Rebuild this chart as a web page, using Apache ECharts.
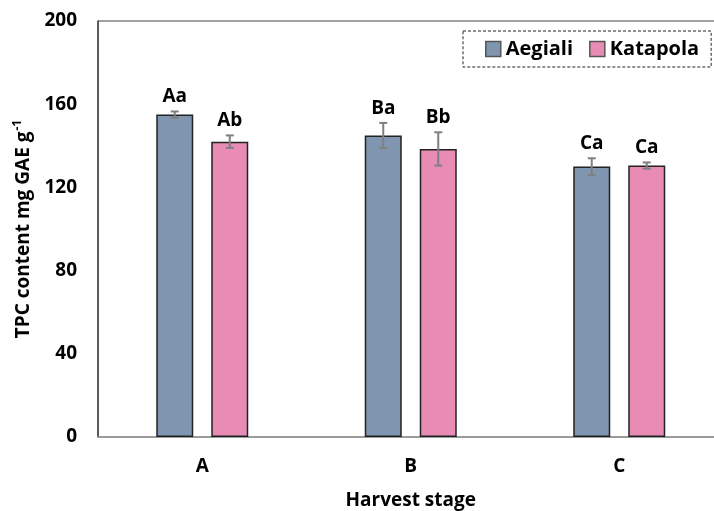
<!DOCTYPE html>
<html><head><meta charset="utf-8">
<script src="https://cdn.jsdelivr.net/npm/echarts@6/dist/echarts.min.js"></script>
<style>html,body{margin:0;padding:0;background:#fff}#c{width:714px;height:511px}</style>
</head><body><div id="c"></div>
<script>
var categories = ['A', 'B', 'C'];
var seriesNames = ['Aegiali', 'Katapola'];
var aegiali = [155, 145, 130];
var katapola = [142, 138.5, 130.5];
var aegialiErr = [1.5, 6, 4];
var katapolaErr = [3, 8, 1.5];
var aegialiLetters = ['Aa', 'Ba', 'Ca'];
var katapolaLetters = ['Ab', 'Bb', 'Ca'];
var yTicks = [0, 40, 80, 120, 160, 200];

var FONT = '"Open Sans"';
var colors = ['#8096b0', '#e98cb5'];
var BW = 37, GAP = 18;

function errSeries(vals, errs, letters, sign) {
  return {
    type: 'custom',
    z: 10,
    data: vals.map(function (v, i) { return [i, v, errs[i]]; }),
    renderItem: function (params, api) {
      var i = api.value(0), v = api.value(1), e = api.value(2);
      var off = sign * (BW + GAP) / 2;
      var top = api.coord([i, v + e]);
      var bot = api.coord([i, v - e]);
      var x = top[0] + off;
      var cap = 4;
      var st = { stroke: '#7f7f7f', lineWidth: 2 };
      return {
        type: 'group',
        children: [
          { type: 'line', shape: { x1: x, y1: top[1], x2: x, y2: bot[1] }, style: st },
          { type: 'line', shape: { x1: x - cap, y1: top[1], x2: x + cap, y2: top[1] }, style: st },
          { type: 'line', shape: { x1: x - cap, y1: bot[1], x2: x + cap, y2: bot[1] }, style: st },
          { type: 'text', x: x, y: top[1] - 5, style: { text: letters[params.dataIndex], fill: '#000', font: 'bold 19px ' + FONT, align: 'center', verticalAlign: 'bottom' } }
        ]
      };
    }
  };
}

var chart = echarts.init(document.getElementById('c'));
chart.setOption({
  animation: false,
  textStyle: { fontFamily: FONT },
  grid: { left: 98, width: 625.5, top: 21, bottom: 74, outerBoundsMode: 'none', containLabel: false,
    show: true, borderColor: '#444', borderWidth: 1 },
  legend: {
    data: seriesNames,
    left: 463, top: 31,
    padding: [8, 12, 8, 22],
    itemGap: 16,
    borderColor: '#222', borderWidth: 1, borderType: [3, 2],
    itemWidth: 15, itemHeight: 15,
    icon: 'rect',
    textStyle: { fontFamily: FONT, fontWeight: 'bold', fontSize: 20, color: '#000', padding: [0, 0, 0, 0] },
    itemStyle: { borderColor: '#555', borderWidth: 1.5 }
  },
  xAxis: {
    type: 'category', data: categories,
    axisLine: { lineStyle: { color: '#999', width: 1.5 } },
    axisTick: { show: false },
    axisLabel: { fontFamily: FONT, fontWeight: 'bold', fontSize: 19, color: '#000', margin: 20 },
    name: 'Harvest stage', nameLocation: 'middle', nameGap: 54,
    nameTextStyle: { fontFamily: FONT, fontWeight: 'bold', fontSize: 19, color: '#000' }
  },
  yAxis: {
    type: 'value', min: 0, max: 200, interval: 40,
    axisLine: { show: true, lineStyle: { color: '#444', width: 1.5 } },
    axisTick: { show: false },
    splitLine: { show: false },
    axisLabel: { fontFamily: FONT, fontWeight: 'bold', fontSize: 19, color: '#000', margin: 21,
      formatter: function (v) { return yTicks.indexOf(v) >= 0 ? String(v) : ''; } },
    name: '{a|TPC content mg GAE g}{s|-1}', nameLocation: 'middle', nameGap: 62,
    nameTextStyle: { rich: {
      a: { fontFamily: FONT, fontWeight: 'bold', fontSize: 19, color: '#000' },
      s: { fontFamily: FONT, fontWeight: 'bold', fontSize: 12, color: '#000', verticalAlign: 'top', padding: [0, 0, 12, 1] }
    } }
  },
  series: [
    { name: seriesNames[0], type: 'bar', data: aegiali, barWidth: BW, barGap: (GAP / BW * 100) + '%',
      itemStyle: { color: colors[0], borderColor: '#222', borderWidth: 1.5 } },
    { name: seriesNames[1], type: 'bar', data: katapola, barWidth: BW,
      itemStyle: { color: colors[1], borderColor: '#222', borderWidth: 1.5 } },
    errSeries(aegiali, aegialiErr, aegialiLetters, -1),
    errSeries(katapola, katapolaErr, katapolaLetters, 1)
  ]
});
</script></body></html>
